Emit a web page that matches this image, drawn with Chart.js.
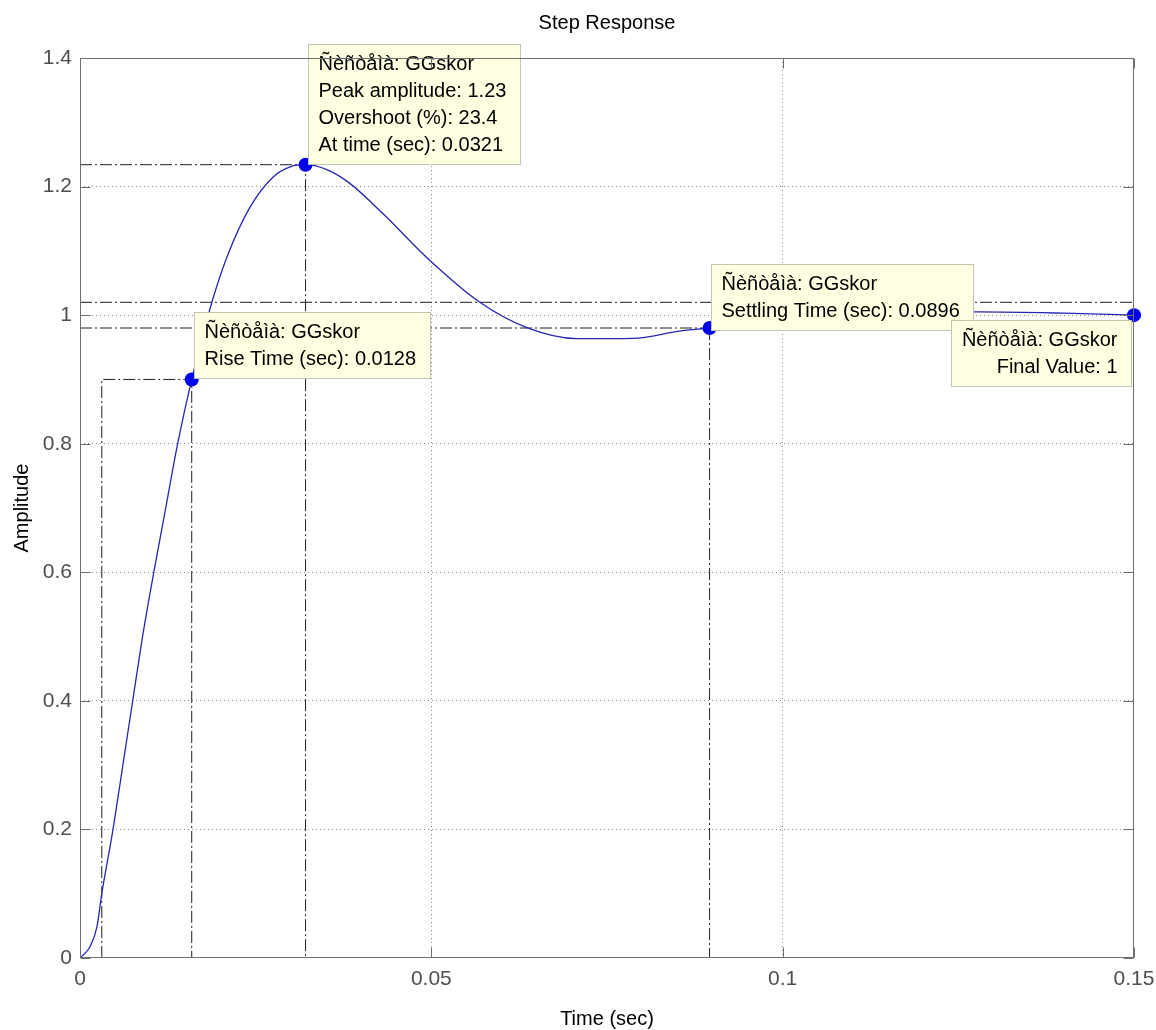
<!DOCTYPE html>
<html><head><meta charset="utf-8">
<script src="https://cdn.jsdelivr.net/npm/chart.js@4/dist/chart.umd.min.js"></script>
<style>html,body{margin:0;padding:0;background:#fff;overflow:hidden}</style>
</head><body>
<canvas id="c" width="1156" height="1030"></canvas>
<script>
// ---- data ----
const time      = [0, 0.0014, 0.0024, 0.0031, 0.0047, 0.0061, 0.0075, 0.0089, 0.0105, 0.0122, 0.0139, 0.0159, 0.0185, 0.0209, 0.0242, 0.0275, 0.0300, 0.0321, 0.0352, 0.0384, 0.0431, 0.0498, 0.0569, 0.0635, 0.0707, 0.0787, 0.0853, 0.0896, 0.1, 0.11, 0.12, 0.128, 0.14, 0.15];
const amplitude = [0, 0.017, 0.048, 0.1, 0.2, 0.3, 0.4, 0.5, 0.6, 0.7, 0.8, 0.9, 1.010, 1.090, 1.168, 1.215, 1.231, 1.234, 1.226, 1.205, 1.158, 1.085, 1.02, 0.981, 0.9635, 0.964, 0.975, 0.98, 0.993, 1.0, 1.004, 1.005, 1.003, 1.0];

const xTicks = [0, 0.05, 0.1, 0.15];
const xTickLabels = ['0', '0.05', '0.1', '0.15'];
const yTicks = [0, 0.2, 0.4, 0.6, 0.8, 1.0, 1.2, 1.4];
const yTickLabels = ['0', '0.2', '0.4', '0.6', '0.8', '1', '1.2', '1.4'];

// characteristic points (rise 90%, peak, settling, final)
const markerTimes  = [0.0159, 0.0321, 0.0896, 0.15];
const markerValues = [0.9, 1.234, 0.98, 1.0];

// guide lines (dash-dot)
const riseGuideT   = [0.0031, 0.0031, 0.0159, 0.0159];
const riseGuideY   = [0, 0.9, 0.9, 0];
const peakGuideT   = [0, 0.0321, 0.0321];
const peakGuideY   = [1.234, 1.234, 0];
const bandT        = [0, 0.15];
const bandUpper    = [1.02, 1.02];
const bandLower    = [0.98, 0.98];
const settleGuideT = [0.0896, 0.0896];
const settleGuideY = [0.98, 0];

// data tip texts
const tipTitles = ['Ñèñòåìà: GGskor', 'Ñèñòåìà: GGskor', 'Ñèñòåìà: GGskor', 'Ñèñòåìà: GGskor'];
const tipLines  = [
  ['Rise Time (sec): 0.0128'],
  ['Peak amplitude: 1.23', 'Overshoot (%): 23.4', 'At time (sec): 0.0321'],
  ['Settling Time (sec): 0.0896'],
  ['Final Value: 1']
];

// ---- styling / layout ----
const FONT = '"Liberation Sans", Arial, Helvetica, sans-serif';
const tipStyle = [
  {corner: 'bl', dx: 2, dy: -1, align: 'left'},
  {corner: 'bl', dx: 2, dy: -1, align: 'left'},
  {corner: 'bl', dx: 1, dy: 2, align: 'left'},
  {corner: 'tr', dx: -3, dy: 5, align: 'right'}
];

const pts = (xs, ys) => xs.map((v, i) => ({x: v, y: ys[i]}));
const guide = (xs, ys) => ({
  data: pts(xs, ys), borderColor: '#1e1e1e', borderWidth: 1,
  borderDash: [12, 3, 2, 3], pointRadius: 0, tension: 0, fill: false
});

const tipsPlugin = {
  id: 'tips',
  afterDatasetsDraw(chart) {
    const {ctx, scales: {x, y}} = chart;
    ctx.save();
    ctx.font = '20px ' + FONT;
    ctx.textBaseline = 'middle';
    markerTimes.forEach((t, i) => {
      const px = x.getPixelForValue(t), py = y.getPixelForValue(markerValues[i]);
      const lines = [tipTitles[i]].concat(tipLines[i]);
      const st = tipStyle[i];
      const tw = Math.max(...lines.map(l => ctx.measureText(l).width));
      const w = Math.round(tw + 24), h = lines.length * 27 + 12;
      let bx, by;
      if (st.corner === 'bl') { bx = px + st.dx; by = py + st.dy - h; }
      else { bx = px + st.dx - w; by = py + st.dy; }
      bx = Math.round(bx) + 0.5; by = Math.round(by) + 0.5;
      ctx.fillStyle = '#ffffe1';
      ctx.strokeStyle = '#c4c4b4';
      ctx.lineWidth = 1;
      ctx.fillRect(bx, by, w, h);
      ctx.strokeRect(bx, by, w, h);
      ctx.fillStyle = '#000';
      lines.forEach((l, k) => {
        const ty = by + 19.5 + k * 27;
        if (st.align === 'right') { ctx.textAlign = 'right'; ctx.fillText(l, bx + w - 14, ty); }
        else { ctx.textAlign = 'left'; ctx.fillText(l, bx + 10, ty); }
      });
    });
    ctx.restore();
  }
};

const framePlugin = {
  id: 'frame',
  afterDatasetsDraw(chart) {
    const {ctx, chartArea: a, scales: {x, y}} = chart;
    ctx.save();
    ctx.strokeStyle = '#6e6e6e';
    ctx.lineWidth = 1;
    const L = Math.round(a.left) + 0.5, R = Math.round(a.right) - 0.5;
    const T = Math.round(a.top) + 0.5, B = Math.round(a.bottom) - 0.5;
    ctx.strokeRect(L, T, R - L, B - T);
    ctx.beginPath();
    yTicks.forEach(v => {
      const py = Math.round(y.getPixelForValue(v)) + 0.5;
      ctx.moveTo(L, py); ctx.lineTo(L + 10, py);
      ctx.moveTo(R, py); ctx.lineTo(R - 10, py);
    });
    xTicks.forEach(v => {
      const px = Math.round(x.getPixelForValue(v)) + 0.5;
      ctx.moveTo(px, B); ctx.lineTo(px, B - 10);
      ctx.moveTo(px, T); ctx.lineTo(px, T + 10);
    });
    ctx.stroke();
    ctx.restore();
  }
};

const edgeTransparent = (min, max) => ctx => {
  const v = ctx.tick ? ctx.tick.value : null;
  return (v === null || Math.abs(v - min) < 1e-9 || Math.abs(v - max) < 1e-9) ? 'rgba(0,0,0,0)' : '#8a8a8a';
};

new Chart(document.getElementById('c'), {
  type: 'line',
  data: {
    datasets: [
      { // markers
        data: pts(markerTimes, markerValues), showLine: false, clip: false,
        pointRadius: 7, pointHoverRadius: 7, pointBackgroundColor: '#0000f0',
        pointBorderColor: '#0000f0', pointBorderWidth: 0
      },
      { // step response
        data: pts(time, amplitude), borderColor: '#2626b4', borderWidth: 1.3,
        pointRadius: 0, cubicInterpolationMode: 'monotone', fill: false
      },
      guide(riseGuideT, riseGuideY),
      guide(peakGuideT, peakGuideY),
      guide(bandT, bandUpper),
      guide(bandT, bandLower),
      guide(settleGuideT, settleGuideY)
    ]
  },
  options: {
    responsive: false,
    animation: false,
    devicePixelRatio: 1,
    layout: {padding: {left: 0, right: 0, top: 0, bottom: 0}},
    plugins: {
      legend: {display: false},
      tooltip: {enabled: false},
      title: {
        display: true, text: 'Step Response', fullSize: false, color: '#000',
        font: {family: FONT, size: 20, weight: 'normal', lineHeight: 1.2},
        padding: {top: 11, bottom: 23}
      }
    },
    scales: {
      x: {
        type: 'linear', min: 0, max: 0.15,
        afterBuildTicks: s => { s.ticks = xTicks.map(v => ({value: v})); },
        afterFit: s => { s.height = 72; s.paddingRight = 22; s.paddingLeft = 0; },
        border: {display: false, dash: [1, 3]},
        grid: {drawTicks: false, color: edgeTransparent(0, 0.15), lineWidth: 1},
        ticks: {
          autoSkip: false, maxRotation: 0, padding: 9, color: '#4e4e4e',
          font: {family: FONT, size: 21},
          callback: (v, i) => xTickLabels[i]
        },
        title: {display: true, text: 'Time (sec)', color: '#000',
          font: {family: FONT, size: 20, lineHeight: 1}, padding: {top: 0, bottom: 1}}
      },
      y: {
        type: 'linear', min: 0, max: 1.4,
        afterBuildTicks: s => { s.ticks = yTicks.map(v => ({value: v})); },
        afterFit: s => { s.width = 80; },
        border: {display: false, dash: [1, 3]},
        grid: {drawTicks: false, color: edgeTransparent(0, 1.4), lineWidth: 1},
        ticks: {
          autoSkip: false, padding: 8, color: '#4e4e4e',
          font: {family: FONT, size: 21},
          callback: (v, i) => yTickLabels[i]
        },
        title: {display: true, text: 'Amplitude', color: '#000',
          font: {family: FONT, size: 20, lineHeight: 1.2}, padding: {top: 10, bottom: 0}}
      }
    }
  },
  plugins: [tipsPlugin, framePlugin]
});
</script>
</body></html>
